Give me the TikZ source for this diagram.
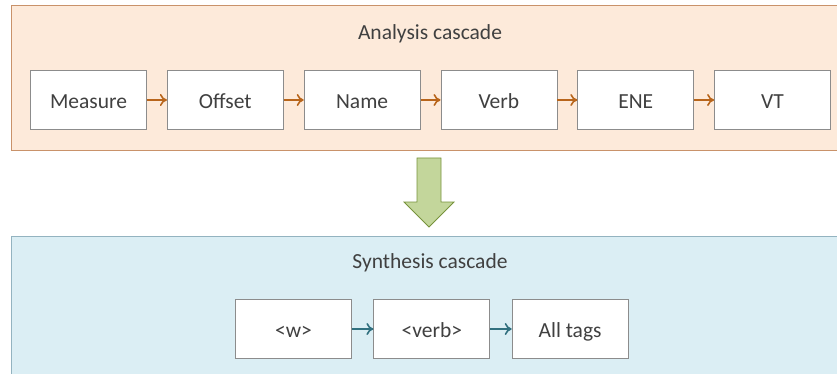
\documentclass[tikz,border=0pt]{standalone}
\usepackage{fontspec}
\setmainfont{Carlito}
\usepackage{xcolor}
\usetikzlibrary{positioning, arrows.meta}

\definecolor{anafill}{HTML}{FDEADA}
\definecolor{anaborder}{HTML}{C9926A}
\definecolor{anaarrow}{HTML}{B8651B}
\definecolor{synfill}{HTML}{DBEEF4}
\definecolor{synborder}{HTML}{93B3C0}
\definecolor{synarrow}{HTML}{31707F}
\definecolor{greenfill}{HTML}{C3D69B}
\definecolor{greenborder}{HTML}{77933C}
\definecolor{txt}{HTML}{404040}

\begin{document}
\begin{tikzpicture}[x=1pt, y=-1pt,
  every node/.style={font=\fontsize{21.5}{25}\selectfont, text=txt},
  stage/.style={draw=gray!90, line width=0.8pt, fill=white, minimum width=116pt, minimum height=59pt, inner sep=0pt, text height=17pt, text depth=0pt},
  anastep/.style={draw=anaarrow, line width=1.6pt, -{To[length=7pt,width=12pt]}},
  synstep/.style={draw=synarrow, line width=1.6pt, -{To[length=7pt,width=12pt]}}]

  \clip (0,0) rectangle (837,374);
  \useasboundingbox (0,0) rectangle (837,374);

  % Analysis panel
  \draw[fill=anafill, draw=anaborder, line width=1pt] (11,6) rectangle (850,151);
  \node (anatitle) at (430,34) {Analysis cascade};

  \node[stage] (measure) at (88.5,100) {Measure};
  \node[stage, right=20pt of measure] (offset) {Offset};
  \node[stage, right=20pt of offset] (name) {Name};
  \node[stage, right=20pt of name] (verb) {Verb};
  \node[stage, right=20pt of verb] (ene) {ENE};
  \node[stage, right=20pt of ene] (vt) {VT};

  \draw[anastep] (measure) -- (offset);
  \draw[anastep] (offset) -- (name);
  \draw[anastep] (name) -- (verb);
  \draw[anastep] (verb) -- (ene);
  \draw[anastep] (ene) -- (vt);

  % Big green arrow
  \draw[fill=greenfill, draw=greenborder, line width=0.8pt]
    (417,158) -- (441,158) -- (441,202) -- (454,202) -- (429,227) -- (404,202) -- (417,202) -- cycle;

  % Synthesis panel
  \draw[fill=synfill, draw=synborder, line width=1pt] (11,236) rectangle (850,390);
  \node (syntitle) at (430,263) {Synthesis cascade};

  \node[stage] (w) at (293.5,329) {<w>};
  \node[stage, right=21.5pt of w] (verbtag) {<verb>};
  \node[stage, right=21.5pt of verbtag] (alltags) {All tags};

  \draw[synstep] (w) -- (verbtag);
  \draw[synstep] (verbtag) -- (alltags);
\end{tikzpicture}
\end{document}
